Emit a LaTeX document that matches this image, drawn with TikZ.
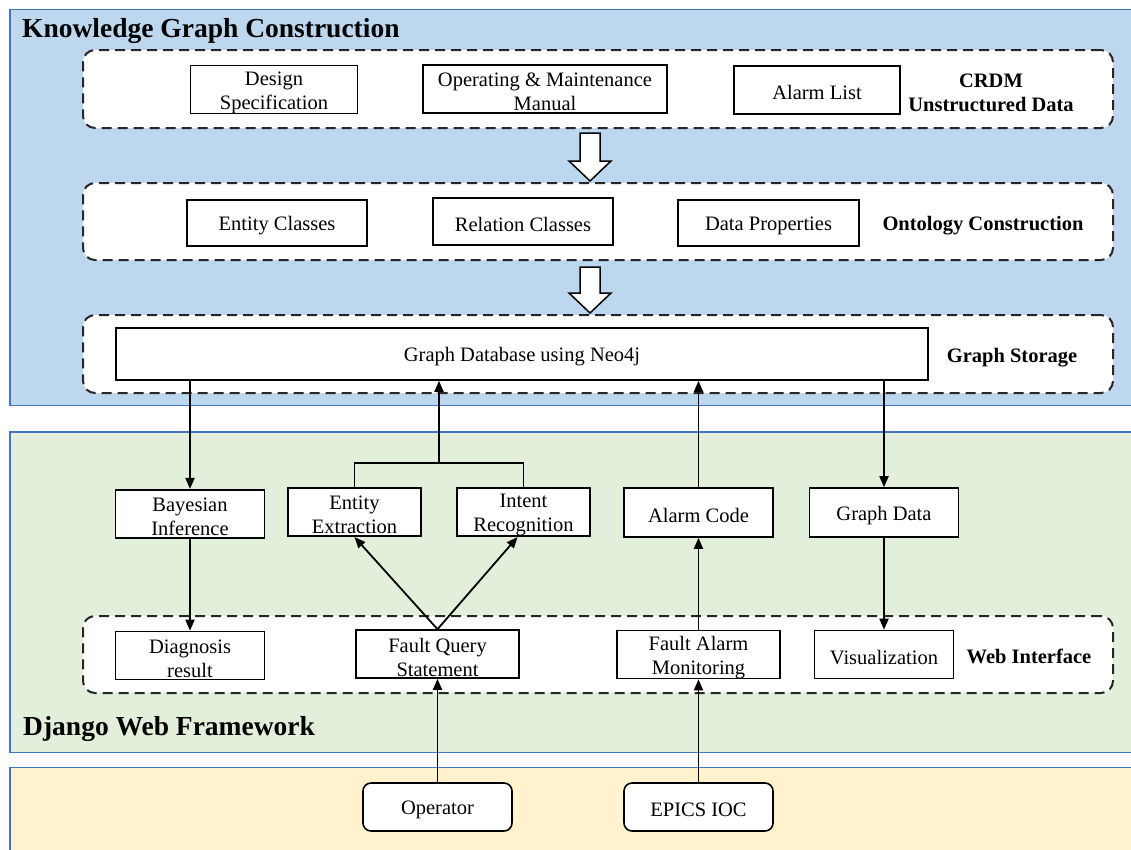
\documentclass[tikz,border=0pt]{standalone}
\usepackage{fontspec}
\setmainfont{Liberation Serif}
\usetikzlibrary{arrows.meta,calc}
\definecolor{kgfill}{HTML}{BDD7EE}
\definecolor{webfill}{HTML}{E2EFDA}
\definecolor{srcfill}{HTML}{FFF2CC}
\definecolor{panelline}{HTML}{4472C4}
\begin{document}
\begin{tikzpicture}[x=1pt,y=-1pt,
  panel/.style={draw=panelline, line width=1.3pt},
  group/.style={draw=black!85, fill=white, dash pattern=on 10pt off 6pt, line width=2pt, rounded corners=12pt, inner sep=0pt},
  item/.style={draw=black, fill=white, line width=1.6pt, align=center, inner sep=0pt,
    font=\fontsize{20.5}{24}\selectfont, execute at begin node={\rule{0pt}{20pt}}},
  boxtext/.style={font=\fontsize{20.5}{24}\selectfont, align=center, inner sep=0pt, yshift=-3pt},
  twoline/.style={label={[boxtext]center:{#1}}},
  source/.style={item, rounded corners=8pt},
  tag/.style={font=\bfseries\fontsize{20.5}{24}\selectfont, align=center, inner sep=0pt},
  heading/.style={font=\bfseries\fontsize{27.5}{30}\selectfont, anchor=base west, inner sep=0pt},
  link/.style={line width=1.8pt, -{Triangle[length=11pt,width=9pt]}},
  bus/.style={line width=1.1pt},
  hollow/.style={draw=black, fill=white, line width=1.5pt, line join=miter}
]
\useasboundingbox (0,0) rectangle (1131,849);
\clip (0,0) rectangle (1131,849);
\fill[white] (0,0) rectangle (1131,849);

% layer panels
\fill[kgfill] (10,9.5) rectangle (1145,405.5);
\draw[panel] (1145,9.5) -- (10,9.5) -- (10,405.5) -- (1145,405.5);
\fill[webfill] (10,432) rectangle (1145,752.5);
\draw[panel] (1145,432) -- (10,432) -- (10,752.5) -- (1145,752.5);
\fill[srcfill] (10,767.5) rectangle (1145,860);
\draw[panel] (1145,767.5) -- (10,767.5) -- (10,860);

\node[heading] (kgc) at (22,37) {Knowledge Graph Construction};
\node[heading] (django) at (23,735) {Django Web Framework};

% dashed groups
\node[group, minimum width=1030pt, minimum height=78pt] (g1) at (598,89) {};
\node[group, minimum width=1030pt, minimum height=77pt] (g2) at (598,221.5) {};
\node[group, minimum width=1030pt, minimum height=78pt] (g3) at (598,354) {};
\node[group, minimum width=1030pt, minimum height=77pt] (g4) at (598,654.5) {};

% unstructured data
\node[item, minimum width=167pt, minimum height=48pt, twoline={Design\\Specification}] (ds) at (274,89.5) {};
\node[item, minimum width=244pt, minimum height=48pt, twoline={Operating \& Maintenance\\Manual}] (om) at (545,89) {};
\node[item, minimum width=166pt, minimum height=48pt] (al) at (817,90) {Alarm List};
\node[tag] (crdm) at (991,93) {CRDM\\Unstructured Data};

% ontology
\node[item, minimum width=180pt, minimum height=46pt] (ec) at (277,223) {Entity Classes};
\node[item, minimum width=180pt, minimum height=47pt] (rc) at (523,221.5) {Relation Classes};
\node[item, minimum width=181pt, minimum height=46pt] (dp) at (768.5,223) {Data Properties};
\node[tag] (onto) at (983,225.5) {Ontology Construction};

% storage
\node[item, minimum width=812pt, minimum height=52pt] (db) at (522,354) {Graph Database using Neo4j};
\node[tag] (gs) at (1012,357.5) {Graph Storage};

% hollow flow arrows
\draw[hollow] (580,133) -- (600,133) -- (600,161) -- (611,161) -- (590,181) -- (569,161) -- (580,161) -- cycle;
\draw[hollow] (580,267) -- (600,267) -- (600,293) -- (611,293) -- (590,313) -- (569,293) -- (580,293) -- cycle;

% middle layer
\node[item, minimum width=149pt, minimum height=48.5pt, twoline={Bayesian\\Inference}] (bi) at (190,514) {};
\node[item, minimum width=133pt, minimum height=48.5pt, twoline={Entity\\Extraction}] (ee) at (354.5,512) {};
\node[item, minimum width=133pt, minimum height=48.5pt, twoline={Intent\\Recognition}] (ir) at (523.5,512) {};
\node[item, minimum width=149pt, minimum height=49pt] (ac) at (698.5,512.5) {Alarm Code};
\node[item, minimum width=149pt, minimum height=49pt] (gd) at (884,512.5) {Graph Data};

% web interface
\node[item, minimum width=149pt, minimum height=48pt, twoline={Diagnosis\\result}] (dr) at (190,655.5) {};
\node[item, minimum width=163pt, minimum height=48pt, twoline={Fault Query\\Statement}] (fq) at (437.5,654) {};
\node[item, minimum width=163pt, minimum height=48pt, twoline={Fault Alarm\\Monitoring}] (fa) at (698.5,654.5) {};
\node[item, minimum width=139pt, minimum height=48pt] (vz) at (884,654.5) {Visualization};
\node[tag] (wi) at (1029,656) {Web Interface};

% sources
\node[source, minimum width=149pt, minimum height=48pt] (op) at (437.5,807) {Operator};
\node[source, minimum width=149pt, minimum height=48pt] (ioc) at (698.5,807) {EPICS IOC};

% connectors
\draw[link] (db.south -| bi.north) -- (bi.north);
\draw[link] (bi.south) -- (dr.north);
\coordinate (busmid) at ($(ee.north)!0.5!(ir.north)+(0,-24)$);
\draw[bus] (ee.north) |- (busmid) -| (ir.north);
\draw[link] (busmid) -- (db.south -| busmid);
\draw[link] (fq.north) -- (ee.south);
\draw[link] (fq.north) -- ($(ir.south)+(-6,0)$);
\draw[link] (ac.north) -- (db.south -| ac.north);
\draw[link] (fa.north) -- (ac.south);
\draw[link] (db.south -| gd.north) -- (gd.north);
\draw[link] (gd.south) -- (vz.north);
\draw[link] (op.north) -- (fq.south);
\draw[link] (ioc.north) -- (fa.south);
\end{tikzpicture}
\end{document}
